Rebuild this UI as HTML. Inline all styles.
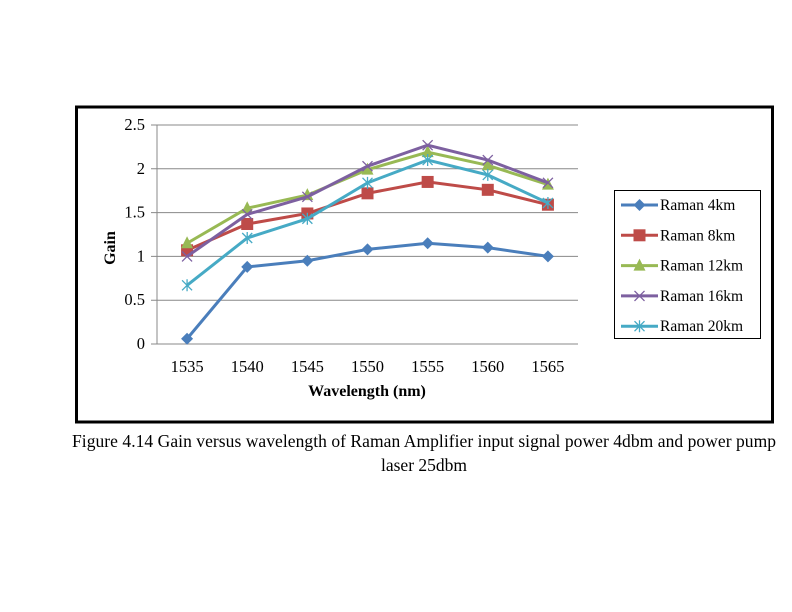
<!DOCTYPE html>
<html><head><meta charset="utf-8"><style>
body{margin:0;background:#fff;width:792px;height:612px;overflow:hidden;font-family:"Liberation Serif",serif;}
svg{position:absolute;left:0;top:0}
</style></head><body>
<svg id="chart" width="792" height="612">
<rect x="76.5" y="107" width="696" height="315" fill="#fff" stroke="#000" stroke-width="3"/>
<g id="grid"></g><g id="axes"></g><g id="series"></g><g id="legend"></g>
<text x="115" y="248" transform="rotate(-90 115 248)" text-anchor="middle" font-size="16" font-weight="bold">Gain</text>
<text x="367" y="396" text-anchor="middle" font-size="16" font-weight="bold">Wavelength (nm)</text>
<text x="72" y="447" font-size="17.5" textLength="704">Figure 4.14 Gain versus wavelength of Raman Amplifier input signal power 4dbm and power pump</text>
<text x="424" y="471" text-anchor="middle" font-size="17.5">laser 25dbm</text>
</svg>
<script>
const categories=[1535,1540,1545,1550,1555,1560,1565];
const yTicks=[0,0.5,1,1.5,2,2.5];
const yTickLabels=["0","0.5","1","1.5","2","2.5"];
const seriesNames=["Raman 4km","Raman 8km","Raman 12km","Raman 16km","Raman 20km"];
const s4=[0.06,0.88,0.95,1.08,1.15,1.10,1.00];
const s8=[1.07,1.37,1.49,1.72,1.85,1.76,1.59];
const s12=[1.15,1.55,1.70,1.99,2.19,2.04,1.82];
const s16=[1.00,1.48,1.68,2.03,2.27,2.10,1.84];
const s20=[0.67,1.21,1.43,1.84,2.10,1.93,1.61];
const allSeries=[s4,s8,s12,s16,s20];
const colors=["#4a7ebb","#be4b48","#98b954","#7d60a0","#46aac5"];
const markers=["diamond","square","triangle","x","star"];
const NS="http://www.w3.org/2000/svg";
const L=157,R=578,T=125,B=344;
const step=(R-L)/categories.length;
const xs=i=>L+step*(i+0.5);
const ys=v=>B-(v/2.5)*(B-T);
function mk(tag,attrs,parent){const e=document.createElementNS(NS,tag);for(const k in attrs)e.setAttribute(k,attrs[k]);parent.appendChild(e);return e;}
const grid=document.getElementById('grid'),axes=document.getElementById('axes');
yTicks.forEach((v,i)=>{
 const g=mk('line',{x1:L-6,x2:R,y1:ys(v),y2:ys(v),stroke:'#888','stroke-width':1},grid);
 
 
 const t=mk('text',{x:L-12,y:ys(v)+5,'text-anchor':'end','font-size':16.5},axes);
 t.textContent=yTickLabels[i];
 
 
});
const ax=mk('line',{x1:L,x2:L,y1:T,y2:B,stroke:'#888'},axes);


categories.forEach((c,i)=>{
 const t=mk('text',{x:xs(i),y:372,'text-anchor':'middle','font-size':16.5},axes);
 t.textContent=c;
 
 
});
function marker(type,x,y,col,p){
 let e;
 if(type==='diamond')e=mk('polygon',{points:`${x},${y-6} ${x+6},${y} ${x},${y+6} ${x-6},${y}`,fill:col},p);
 else if(type==='square')e=mk('rect',{x:x-6,y:y-6,width:12,height:12,fill:col},p);
 else if(type==='triangle')e=mk('polygon',{points:`${x},${y-7} ${x+6},${y+5} ${x-6},${y+5}`,fill:col},p);
 else if(type==='x')e=mk('path',{d:`M${x-5},${y-5}L${x+5},${y+5}M${x-5},${y+5}L${x+5},${y-5}`,stroke:col,'stroke-width':1.3},p);
 else e=mk('path',{d:`M${x-5},${y-5}L${x+5},${y+5}M${x-5},${y+5}L${x+5},${y-5}M${x},${y-6}L${x},${y+6}`,stroke:col,'stroke-width':1.3},p);
 return e;
}
const sg=document.getElementById('series');
allSeries.forEach((s,k)=>{
 const g=mk('g',{},sg);
 
 
 const pl=mk('polyline',{points:s.map((v,i)=>xs(i)+','+ys(v)).join(' '),fill:'none',stroke:colors[k],'stroke-width':3},g);
 
 
 s.forEach((v,i)=>{const m=marker(markers[k],xs(i),ys(v),colors[k],g);
  
  });
});
const lg=document.getElementById('legend');
const lb=mk('rect',{x:614.5,y:190.5,width:146,height:148,fill:'#fff',stroke:'#000'},lg);


seriesNames.forEach((n,k)=>{
 const y=205+k*30.3;
 const g=mk('g',{},lg);
 
 
 mk('line',{x1:621,x2:658,y1:y,y2:y,stroke:colors[k],'stroke-width':3},g);
 marker(markers[k],639.5,y,colors[k],g);
 const t=mk('text',{x:660,y:y+5,'font-size':15.5},g);
 t.textContent=n;
});
</script>
</body></html>
